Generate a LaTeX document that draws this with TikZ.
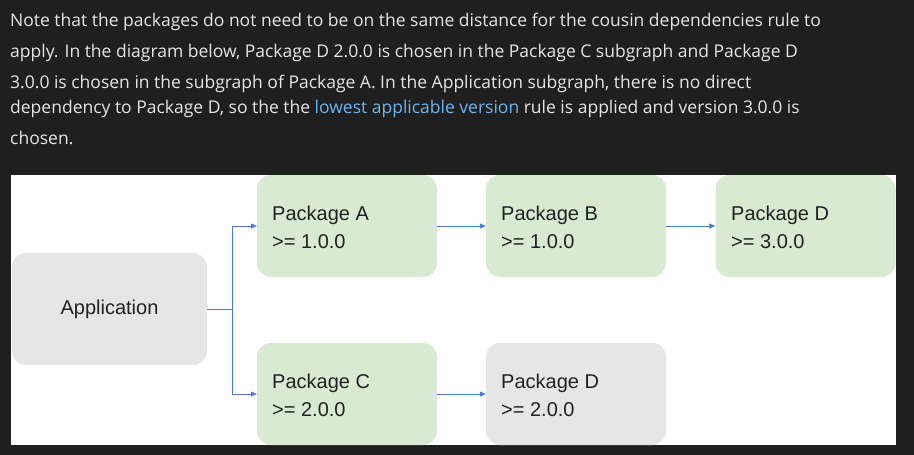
\documentclass[tikz,border=0pt]{standalone}
\usepackage{fontspec}
\setmainfont{Liberation Sans}
\newfontfamily\hdr{Open Sans}
\usetikzlibrary{arrows.meta}
\definecolor{bgdark}{HTML}{1F1F1F}
\definecolor{hdrtxt}{HTML}{E6E6E6}
\definecolor{linkc}{HTML}{6CB4F2}
\definecolor{greenbox}{HTML}{D9EAD3}
\definecolor{greybox}{HTML}{E6E6E6}
\definecolor{arrowc}{HTML}{4A7BD8}
\tikzset{
  hline/.style={anchor=base west, inner sep=0pt, text=hdrtxt, font=\hdr\fontsize{17.5}{20}\selectfont},
  pkg/.style={rounded corners=14pt, minimum width=180pt, minimum height=102pt, inner sep=0pt},
  lbl/.style={anchor=base west, inner sep=0pt, text=black!87, font=\fontsize{20}{24}\selectfont},
  conn/.style={draw=arrowc, line width=0.7pt},
  arr/.style={conn, -{Triangle[length=6pt,width=5pt]}}
}
\begin{document}
\begin{tikzpicture}[x=1pt,y=-1pt]
\fill[bgdark] (0,0) rectangle (914,455);
\useasboundingbox (0,0) rectangle (914,455);
\node[hline] (l1) at (10,26) {Note that the packages do not need to be on the same distance for the cousin dependencies rule to};
\node[hline] (l2) at (10,57) {apply. In the diagram below, Package D 2.0.0 is chosen in the Package C subgraph and Package D};
\node[hline] (l3) at (10,88) {3.0.0 is chosen in the subgraph of Package A. In the Application subgraph, there is no direct};
\node[hline] (l4) at (10,113) {dependency to Package D, so the the \textcolor{linkc}{lowest applicable version} rule is applied and version 3.0.0 is};
\node[hline] (l5) at (10,144) {chosen.};
\fill[white] (11,175) rectangle (896,445);
\node[pkg, fill=greybox, minimum width=195pt, minimum height=112pt] (app) at (109.5,309) {};
\node[font=\fontsize{20}{24}\selectfont, text=black!87] (apptxt) at (109.5,309) {Application};
\node[pkg, fill=greenbox] (pa) at (347,226) {};
\node[pkg, fill=greenbox] (pb) at (576,226) {};
\node[pkg, fill=greenbox] (pd3) at (805.5,226) {};
\node[pkg, fill=greenbox] (pc) at (347,394) {};
\node[pkg, fill=greybox] (pd2) at (576,394) {};
\node[lbl] (ta1) at (272,220) {Package A};
\node[lbl] (ta2) at (272,248) {>= 1.0.0};
\node[lbl] (tb1) at (501,220) {Package B};
\node[lbl] (tb2) at (501,248) {>= 1.0.0};
\node[lbl] (td1) at (731,220) {Package D};
\node[lbl] (td2) at (731,248) {>= 3.0.0};
\node[lbl] (tc1) at (272,388) {Package C};
\node[lbl] (tc2) at (272,416) {>= 2.0.0};
\node[lbl] (te1) at (501,388) {Package D};
\node[lbl] (te2) at (501,416) {>= 2.0.0};
\coordinate (split) at (232,309);
\draw[conn] (app.east) -- (split);
\draw[arr] (split) |- (pa.west);
\draw[arr] (split) |- (pc.west);
\draw[arr] (pa.east) -- (pb.west);
\draw[arr] (pb.east) -- (pd3.west);
\draw[arr] (pc.east) -- (pd2.west);
\end{tikzpicture}
\end{document}
